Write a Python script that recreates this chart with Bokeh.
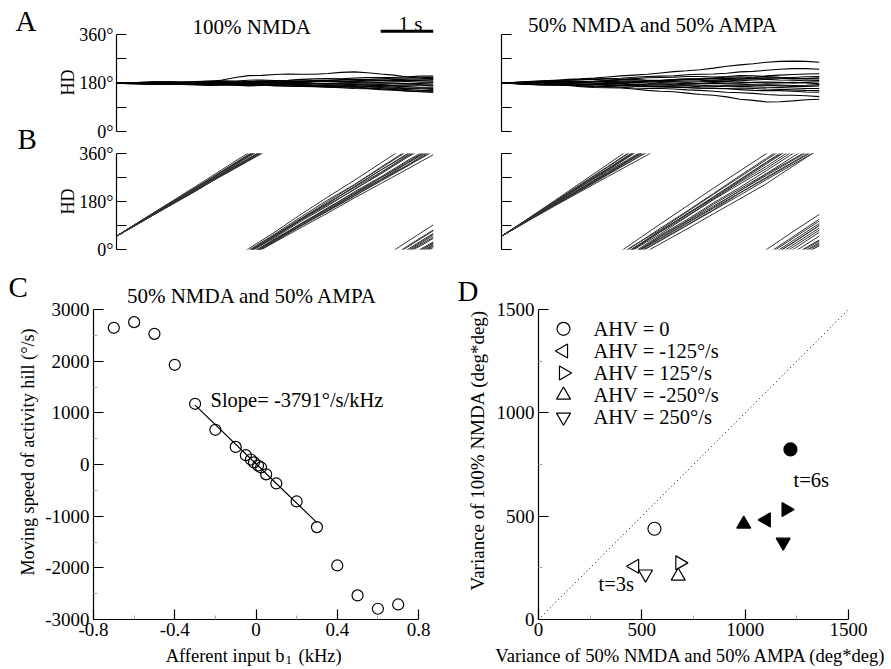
import numpy as np
from bokeh.plotting import figure
from bokeh.models import Range1d, FixedTicker, Label
from bokeh.layouts import row, column
from bokeh.embed import file_html
from bokeh.resources import INLINE

FONT = "Liberation Serif"

# ---------------- data ----------------
# Panel A: head direction (deg) sampled every 0.25 s, no angular velocity
T_A = [0.0, 0.25, 0.5, 0.75, 1.0, 1.25, 1.5, 1.75, 2.0, 2.25, 2.5, 2.75, 3.0,
       3.25, 3.5, 3.75, 4.0, 4.25, 4.5, 4.75, 5.0, 5.25, 5.5, 5.75, 6.0]
A_NMDA = [
    [180, 182, 181, 180, 183, 184, 182, 185, 192, 201, 208, 209, 212, 214, 213, 213, 216, 220, 222, 219, 214, 210, 203, 199, 197],
    [180, 178, 178, 179, 176, 175, 178, 177, 175, 172, 172, 173, 170, 170, 168, 167, 165, 163, 160, 159, 156, 154, 150, 148, 145],
    [180, 180, 183, 185, 185, 184, 186, 188, 189, 188, 191, 192, 190, 191, 194, 196, 197, 196, 199, 201, 201, 201, 204, 206, 206],
    [180, 180, 177, 176, 179, 178, 175, 173, 174, 176, 176, 174, 173, 173, 171, 169, 168, 170, 171, 168, 167, 165, 162, 162, 160],
    [180, 179, 182, 182, 180, 180, 183, 184, 182, 182, 185, 186, 184, 184, 187, 188, 186, 186, 189, 191, 192, 190, 190, 192, 193],
    [180, 181, 179, 177, 177, 178, 176, 176, 178, 177, 174, 173, 175, 174, 172, 170, 170, 169, 166, 162, 160, 159, 156, 153, 152],
    [180, 179, 181, 183, 184, 182, 182, 184, 185, 183, 183, 185, 186, 184, 184, 187, 188, 186, 185, 184, 183, 185, 186, 184, 184],
    [180, 180, 178, 177, 179, 181, 181, 179, 178, 180, 180, 178, 177, 179, 179, 177, 176, 178, 178, 176, 175, 177, 177, 175, 174],
    [180, 181, 183, 184, 182, 183, 185, 187, 187, 185, 186, 188, 189, 190, 192, 190, 190, 193, 194, 194, 196, 198, 199, 200, 202],
    [180, 179, 177, 175, 175, 175, 173, 171, 172, 172, 170, 171, 171, 169, 168, 168, 166, 164, 163, 161, 158, 156, 152, 149, 148],
    [180, 180, 182, 183, 181, 179, 179, 181, 183, 183, 181, 183, 184, 182, 181, 179, 179, 181, 182, 180, 180, 180, 178, 179, 181],
    [180, 180, 178, 178, 180, 179, 177, 177, 179, 178, 176, 176, 178, 180, 181, 179, 178, 177, 175, 172, 170, 169, 167, 165, 165],
    [180, 179, 181, 181, 179, 180, 182, 182, 180, 181, 183, 182, 181, 183, 184, 185, 187, 185, 185, 188, 189, 189, 191, 190, 188],
    [180, 181, 179, 179, 181, 180, 178, 176, 176, 178, 179, 178, 177, 176, 175, 177, 178, 176, 174, 173, 171, 171, 173, 172, 170],
    [180, 180, 182, 184, 184, 182, 183, 182, 181, 183, 185, 186, 188, 186, 186, 188, 190, 191, 193, 192, 190, 193, 195, 196, 198],
    [180, 178, 178, 178, 176, 178, 179, 177, 177, 175, 175, 173, 172, 174, 174, 172, 171, 169, 167, 166, 164, 161, 160, 159, 157],
]
A_MIX = [
    [180, 183, 184, 186, 190, 194, 196, 199, 203, 207, 210, 213, 218, 223, 226, 230, 236, 243, 248, 252, 258, 261, 262, 261, 258],
    [180, 179, 176, 173, 172, 171, 167, 164, 163, 162, 158, 153, 150, 148, 143, 138, 135, 129, 120, 116, 110, 111, 114, 118, 120],
    [180, 182, 185, 187, 188, 190, 193, 196, 197, 198, 202, 205, 206, 207, 211, 213, 214, 217, 222, 224, 228, 232, 234, 234, 232],
    [180, 178, 175, 173, 173, 173, 170, 167, 166, 165, 162, 160, 160, 158, 155, 153, 150, 146, 144, 142, 138, 135, 135, 133, 130],
    [180, 180, 183, 185, 186, 186, 184, 185, 189, 192, 193, 190, 190, 193, 196, 197, 199, 202, 203, 200, 207, 210, 212, 214, 215],
    [180, 180, 178, 175, 174, 176, 176, 173, 171, 171, 169, 167, 166, 165, 163, 161, 160, 159, 156, 153, 152, 152, 150, 147, 146],
    [180, 182, 186, 189, 191, 191, 194, 194, 192, 194, 197, 200, 201, 202, 205, 205, 203, 205, 208, 207, 205, 202, 201, 204, 205],
    [180, 179, 177, 177, 180, 179, 176, 176, 178, 177, 174, 176, 177, 174, 173, 172, 170, 170, 168, 166, 165, 164, 162, 160, 160],
    [180, 179, 182, 181, 178, 179, 183, 186, 187, 185, 184, 188, 190, 190, 193, 193, 191, 194, 195, 196, 199, 198, 196, 197, 200],
    [180, 179, 176, 176, 178, 175, 173, 175, 175, 172, 171, 170, 168, 170, 170, 167, 166, 169, 170, 171, 174, 173, 171, 172, 175],
    [180, 180, 183, 183, 181, 182, 185, 185, 183, 184, 186, 186, 184, 187, 188, 189, 192, 191, 189, 192, 194, 192, 191, 189, 190],
    [180, 180, 178, 176, 175, 177, 177, 178, 180, 179, 177, 178, 181, 180, 178, 179, 182, 180, 180, 183, 184, 183, 181, 183, 185],
    [180, 179, 181, 183, 184, 186, 187, 188, 190, 192, 193, 191, 191, 193, 195, 196, 198, 197, 196, 198, 200, 200, 198, 196, 196],
    [180, 179, 177, 175, 174, 173, 171, 169, 168, 170, 170, 168, 167, 166, 164, 162, 160, 160, 162, 160, 158, 157, 155, 153, 152],
    [180, 182, 184, 182, 182, 185, 187, 185, 185, 184, 182, 184, 186, 185, 183, 185, 187, 186, 184, 182, 180, 181, 183, 181, 178],
    [180, 179, 176, 177, 179, 181, 182, 180, 178, 177, 175, 173, 172, 173, 176, 178, 179, 177, 176, 174, 172, 170, 168, 168, 170],
]

# Panel B: unwrapped head direction (deg) sampled every 0.5 s while turning
T_B = [0.0, 0.5, 1.0, 1.5, 2.0, 2.5, 3.0, 3.5, 4.0, 4.5, 5.0, 5.5, 6.0]
B_NMDA = [
    [50, 112, 173, 229, 294, 357, 419, 483, 546, 603, 668, 732, 794],
    [50, 107, 163, 219, 280, 335, 390, 451, 504, 559, 620, 673, 728],
    [50, 111, 168, 231, 293, 350, 413, 475, 532, 596, 658, 715, 778],
    [50, 106, 166, 222, 278, 334, 395, 450, 506, 567, 621, 676, 737],
    [50, 110, 172, 233, 291, 354, 415, 477, 540, 602, 665, 728, 791],
    [50, 108, 164, 224, 280, 341, 396, 457, 512, 568, 629, 684, 746],
    [50, 111, 171, 228, 290, 347, 409, 471, 528, 584, 647, 709, 766],
    [50, 107, 167, 223, 284, 340, 401, 456, 517, 572, 628, 689, 744],
    [50, 113, 175, 237, 300, 363, 426, 493, 557, 619, 684, 749, 813],
    [50, 108, 165, 221, 277, 332, 388, 443, 497, 553, 607, 661, 716],
    [50, 110, 167, 229, 286, 348, 405, 467, 524, 586, 643, 705, 762],
    [50, 107, 168, 224, 285, 341, 398, 459, 515, 576, 632, 693, 749],
    [50, 112, 170, 232, 294, 351, 414, 476, 533, 595, 657, 719, 781],
    [50, 108, 165, 225, 281, 338, 394, 455, 510, 566, 622, 683, 739],
    [50, 111, 172, 230, 292, 354, 411, 473, 535, 592, 649, 711, 773],
    [50, 107, 164, 220, 281, 337, 393, 449, 505, 561, 616, 672, 733],
]
B_MIX = [
    [50, 116, 183, 251, 319, 388, 456, 523, 590, 655, 720, 787, 852],
    [50, 107, 163, 218, 273, 327, 382, 437, 494, 550, 607, 673, 737],
    [50, 114, 179, 243, 308, 374, 440, 504, 570, 637, 702, 768, 834],
    [50, 108, 166, 223, 281, 338, 396, 452, 509, 572, 628, 685, 742],
    [50, 113, 177, 237, 302, 367, 431, 490, 556, 621, 686, 745, 811],
    [50, 109, 168, 230, 287, 345, 408, 465, 523, 580, 643, 699, 756],
    [50, 112, 175, 239, 298, 362, 426, 485, 549, 613, 672, 737, 801],
    [50, 110, 169, 227, 289, 347, 410, 467, 530, 587, 645, 708, 771],
    [50, 113, 173, 237, 296, 360, 419, 483, 547, 606, 664, 729, 793],
    [50, 109, 172, 230, 293, 351, 414, 472, 535, 593, 656, 720, 785],
    [50, 115, 180, 245, 311, 376, 435, 501, 567, 632, 697, 762, 827],
    [50, 108, 165, 222, 280, 337, 393, 450, 507, 564, 622, 679, 735],
    [50, 112, 176, 235, 300, 364, 428, 493, 552, 617, 681, 746, 810],
    [50, 109, 167, 225, 283, 346, 403, 460, 518, 581, 638, 695, 752],
    [50, 114, 178, 242, 302, 366, 430, 494, 558, 623, 688, 753, 818],
    [50, 110, 170, 228, 285, 343, 401, 458, 515, 573, 631, 688, 746],
]

# Panel C
C_input = [-0.7, -0.6, -0.5, -0.4, -0.3, -0.2, -0.1, -0.05, -0.025, -0.01,
           0.01, 0.025, 0.05, 0.1, 0.2, 0.3, 0.4, 0.5, 0.6, 0.7]
C_speed = [2646, 2755, 2529, 1930, 1175, 672, 340, 180, 97, 40,
           -20, -57, -190, -367, -715, -1212, -1954, -2534, -2792, -2709]
C_fit_x = [-0.3, 0.3]
C_fit_y = [1150, -1125]

# Panel D
AHV_labels = ["AHV = 0", "AHV = -125°/s", "AHV = 125°/s", "AHV = -250°/s", "AHV = 250°/s"]
D_var_mix_3s = [561, 465, 684, 676, 518]
D_var_nmda_3s = [439, 258, 274, 210, 220]
D_var_mix_6s = [1219, 1102, 1198, 993, 1184]
D_var_nmda_6s = [823, 482, 532, 462, 374]
D_diag = [0, 1500]

MARKERS = ["circle", "triangle", "triangle", "triangle", "inverted_triangle"]
ANGLES = [0, np.pi / 2, -np.pi / 2, 0, 0]
SIZES = [13, 14, 14, 14, 14]


# ---------------- helpers ----------------
def make_fig(w, h, xr, yr, bl, br, bt, bb, **kw):
    p = figure(width=w, height=h, x_range=xr, y_range=yr, toolbar_location=None,
               output_backend="svg", min_border=0, min_border_left=bl, min_border_right=br,
               min_border_top=bt, min_border_bottom=bb, **kw)
    p.outline_line_color = None
    p.grid.visible = False
    p.background_fill_color = "white"
    p.border_fill_color = "white"
    return p


def text_fig(w, h):
    return make_fig(w, h, Range1d(0, w), Range1d(0, h), 0, 0, 0, 0,
                    x_axis_location=None, y_axis_location=None)


def style_axis(ax, size="19px", standoff=4):
    ax.axis_line_width = 1.2
    ax.axis_line_color = "black"
    ax.major_tick_in = 10
    ax.major_tick_out = 0
    ax.major_tick_line_width = 1.2
    ax.major_tick_line_color = "black"
    ax.minor_tick_in = 4
    ax.minor_tick_out = 0
    ax.minor_tick_line_color = "#aaaaaa"
    ax.major_label_text_font = FONT
    ax.major_label_text_font_size = size
    ax.major_label_text_color = "black"
    ax.major_label_standoff = standoff


def label(p, x, y, text, size="20px", align="left", angle=0):
    p.add_layout(Label(x=x, y=y, text=text, text_font=FONT, text_font_size=size,
                       text_align=align, text_baseline="middle", angle=angle,
                       text_color="black"))


def hd_axis(p, show_labels):
    ax = p.yaxis[0]
    style_axis(ax, "18px", 3)
    ax.ticker = FixedTicker(ticks=[0, 90, 180, 270, 360], minor_ticks=[])
    ax.bounds = (0, 360)
    if show_labels:
        ax.major_label_overrides = {0: "0°", 90: "", 180: "180°", 270: "", 360: "360°"}
    else:
        ax.major_label_overrides = {0: "", 90: "", 180: "", 270: "", 360: ""}


# ---------------- panel A ----------------
A_TOP = 487.7
aL = make_fig(392, 141, Range1d(0, 6), Range1d(0, A_TOP), 40, 35, 0, 10, x_axis_location=None)
aR = make_fig(423, 141, Range1d(0, 6), Range1d(0, A_TOP), 33, 72, 0, 10, x_axis_location=None)
hd_axis(aL, True)
hd_axis(aR, False)
aL.multi_line([T_A[:len(tr)] for tr in A_NMDA], A_NMDA, line_color="black", line_width=1.1)
aR.multi_line([T_A[:len(tr)] for tr in A_MIX], A_MIX, line_color="black", line_width=1.1)
# scale bar: 1 s
aL.line([5, 6], [373.4, 373.4], line_color="black", line_width=3)
label(aL, 5.565, 401, "1 s", "21px", "center")
label(aL, 2.56, 389, "100% NMDA", "21px", "center")
label(aR, 2.87, 397.6, "50% NMDA and 50% AMPA", "21px", "center")

# ---------------- panel B ----------------
bL = make_fig(392, 129, Range1d(0, 6), Range1d(0, 360), 40, 35, 12, 21, x_axis_location=None)
bR = make_fig(423, 129, Range1d(0, 6), Range1d(0, 360), 33, 72, 12, 21, x_axis_location=None)
hd_axis(bL, True)
hd_axis(bR, False)
for p, data in ((bL, B_NMDA), (bR, B_MIX)):
    xs, ys = [], []
    for tr in data:
        for k in range(3):          # head direction wraps around 360 deg
            xs.append(T_B[:len(tr)])
            ys.append([v - 360 * k for v in tr])
    p.multi_line(xs, ys, line_color="#333333", line_width=1.0)

# letters and HD labels for rows A and B
lt = text_fig(76, 270)
label(lt, 15, 249.5, "A", "29px")
label(lt, 17, 132, "B", "29px")
label(lt, 67, 188, "HD", "18px", "center", np.pi / 2)
label(lt, 67, 69, "HD", "18px", "center", np.pi / 2)

# ---------------- panel C ----------------
C_TOP = 3000 + 39 * 6000 / 310
pc = make_fig(410, 375, Range1d(-0.8, 0.8), Range1d(-3000, C_TOP), 53, 32, 0, 26)
style_axis(pc.xaxis[0], "19px", 3)
style_axis(pc.yaxis[0], "19px", 4)
pc.yaxis[0].bounds = (-3000, 3000)
pc.xaxis[0].ticker = FixedTicker(ticks=[-0.8, -0.4, 0, 0.4, 0.8], minor_ticks=[-0.6, -0.2, 0.2, 0.6])
pc.xaxis[0].major_label_overrides = {-0.8: "-0.8", -0.4: "-0.4", 0: "0", 0.4: "0.4", 0.8: "0.8"}
pc.yaxis[0].ticker = FixedTicker(ticks=[-3000, -2000, -1000, 0, 1000, 2000, 3000],
                                 minor_ticks=[-2500, -1500, -500, 500, 1500, 2500])
pc.yaxis[0].major_label_overrides = {-3000: "-3000", -2000: "-2000", -1000: "-1000", 0: "0",
                                     1000: "1000", 2000: "2000", 3000: "3000"}
pc.line(C_fit_x, C_fit_y, line_color="black", line_width=1.2)
pc.scatter(C_input, C_speed, marker="circle", size=11, fill_color=None,
           line_color="black", line_width=1.2)
label(pc, -0.017, 3252, "50% NMDA and 50% AMPA", "21px", "center")
label(pc, -0.224, 1258, "Slope= -3791°/s/kHz", "20.5px")

cs = text_fig(40, 375)
label(cs, 8, 357.5, "C", "29px")
label(cs, 27, 180, "Moving speed of activity hill (°/s)", "18.2px", "center", np.pi / 2)

# ---------------- panel D ----------------
D_TOP = 1500 + 39 * 1500 / 310
pd_ = make_fig(401, 375, Range1d(0, 1500), Range1d(0, D_TOP), 48, 43, 0, 26)
style_axis(pd_.xaxis[0], "19px", 3)
style_axis(pd_.yaxis[0], "19px", 4)
pd_.yaxis[0].bounds = (0, 1500)
pd_.xaxis[0].ticker = FixedTicker(ticks=[0, 500, 1000, 1500], minor_ticks=[250, 750, 1250])
pd_.yaxis[0].ticker = FixedTicker(ticks=[0, 500, 1000, 1500], minor_ticks=[250, 750, 1250])
pd_.line(D_diag, D_diag, line_color="black", line_width=1, line_dash="1 3")
for i in range(5):
    pd_.scatter([D_var_mix_3s[i]], [D_var_nmda_3s[i]], marker=MARKERS[i], angle=ANGLES[i],
                size=SIZES[i], fill_color=None, line_color="black", line_width=1.2)
    pd_.scatter([D_var_mix_6s[i]], [D_var_nmda_6s[i]], marker=MARKERS[i], angle=ANGLES[i],
                size=SIZES[i], fill_color="black", line_color="black", line_width=1.2)
# legend (keys drawn with the same markers, rotated where needed)
LEG_X, LEG_TOP, LEG_STEP = 121, 1406.6, 106.9
for i in range(5):
    pd_.scatter([LEG_X], [LEG_TOP - i * LEG_STEP], marker=MARKERS[i], angle=ANGLES[i],
                size=SIZES[i], fill_color=None, line_color="black", line_width=1.2)
    label(pd_, 266, LEG_TOP - i * LEG_STEP, AHV_labels[i], "20.5px")
label(pd_, 1234, 672.6, "t=6s", "20.5px")
label(pd_, 290, 172.7, "t=3s", "20.5px")

ds = text_fig(40, 375)
label(ds, 7, 353.5, "D", "29px")
label(ds, 27, 182, "Variance of 100% NMDA (deg*deg)", "19px", "center", np.pi / 2)

# footer row: x-axis titles
ftr = text_fig(891, 24)
label(ftr, 284, 14, "Afferent input b", "18.5px", "right")
label(ftr, 285, 10, "1", "13px", "left")
label(ftr, 298, 14, "(kHz)", "18.5px", "left")
label(ftr, 691, 14, "Variance of 50% NMDA and 50% AMPA (deg*deg)", "18.6px", "center")

layout = column(
    row(lt, column(row(aL, aR), row(bL, bR))),
    row(cs, pc, ds, pd_),
    ftr,
)

open("out.html", "w").write(file_html(layout, INLINE))
